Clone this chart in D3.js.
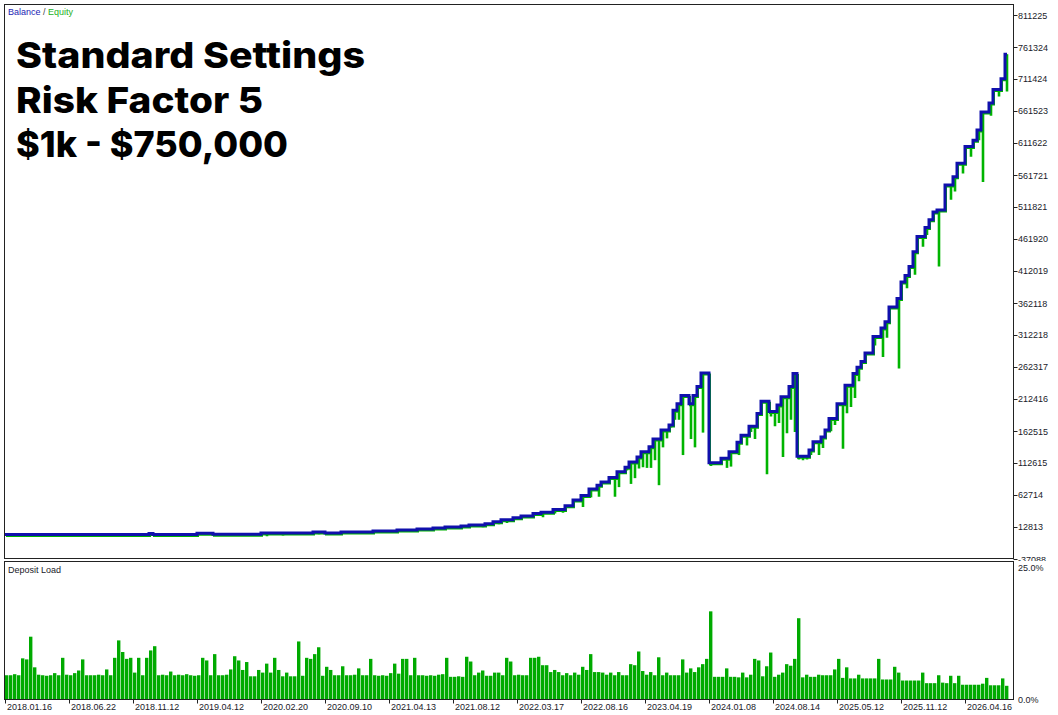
<!DOCTYPE html>
<html>
<head>
<meta charset="utf-8">
<script src="https://cdn.jsdelivr.net/npm/d3@7/dist/d3.min.js"></script>
<style>
  body { margin: 0; background: #fff; }
  svg { display: block; }
  .axis-label { font-family: "Liberation Sans", Arial, sans-serif; font-size: 9px; fill: #1a1a2a; }
</style>
</head>
<body>
<div id="chart"></div>
<script>
// tick labels
const dateLabels = ['2018.01.16', '2018.06.22', '2018.11.12', '2019.04.12', '2020.02.20', '2020.09.10',
  '2021.04.13', '2021.08.12', '2022.03.17', '2022.08.16', '2023.04.19', '2024.01.08',
  '2024.08.14', '2025.05.12', '2025.11.12', '2026.04.16'];
const dateTickTrades = [0, 16, 32, 48, 64, 80, 96, 112, 128, 144, 160, 176, 192, 208, 224, 240];
const yTickValues = [-37088, 12813, 62714, 112615, 162515, 212416, 262317, 312218, 362118,
  412019, 461920, 511821, 561721, 611622, 661523, 711424, 761324, 811225];
const loadTicks = [0, 25];

// balance after each step: [trade index, balance]
const balanceSteps = [
  [0, 1000], [36, 2800], [37, 1200], [48, 3000], [52, 1500], [64, 3400], [77, 5000], [80, 3400],
  [84, 5000], [92, 6600], [98, 8100], [103, 9700], [107, 11300], [110, 12800], [114, 14400],
  [116, 15900], [120, 18000], [122, 21000], [124, 24000], [127, 27300], [129, 30000], [132, 34000],
  [134, 36000], [137, 40000], [140, 46000], [142, 55000], [144, 62000], [146, 72000], [148, 78000],
  [149, 83000], [151, 90000], [153, 99000], [155, 106000], [156, 114000], [158, 122000],
  [159, 130000], [161, 138000], [162, 150000], [164, 164000], [166, 172000], [167, 195000],
  [168, 205000], [169, 218000], [171, 205000], [172, 218000], [173, 232000], [174, 253000],
  [176, 113000], [179, 120000], [181, 130000], [183, 145000], [184, 156000], [186, 170000],
  [188, 190000], [189, 209000], [191, 193000], [193, 203000], [194, 216000], [196, 232000],
  [197, 252000], [198, 123000], [201, 133000], [202, 145800], [204, 153000], [205, 164000],
  [206, 182000], [208, 205000], [210, 234000], [212, 252000], [213, 262000], [214, 271000],
  [215, 284000], [217, 310000], [219, 323000], [220, 333000], [221, 356000], [223, 369000],
  [224, 395000], [225, 405000], [226, 419000], [227, 442000], [228, 466000], [230, 480000],
  [231, 492000], [232, 504000], [233, 507000], [235, 546000], [237, 559000], [238, 580000],
  [240, 606000], [242, 616000], [243, 632000], [244, 660000], [246, 674000], [247, 695000],
  [249, 712000], [250, 750000]
];

// lowest equity reached during a trade: [trade index, equity]
const equityDips = [
  [65, -1800], [69, -500], [78, 1500], [84, 2000], [88, 3000], [97, 4500], [99, 5500], [108, 8000],
  [118, 13000], [119, 12500], [123, 17000], [125, 19000], [126, 22000], [128, 25000], [131, 28000],
  [134, 28000], [137, 34000], [139, 35000], [144, 44000], [146, 59000], [148, 60000], [152, 60000],
  [153, 75000], [155, 101000], [156, 80000], [157, 89000], [158, 104000], [159, 106000],
  [160, 105000], [161, 105000], [162, 117000], [163, 78000], [164, 137000], [165, 151000],
  [166, 168000], [167, 180000], [168, 180000], [169, 125000], [171, 150000], [172, 137000],
  [174, 160000], [176, 108000], [178, 112000], [180, 105000], [181, 107000], [183, 125000],
  [185, 140000], [186, 161000], [187, 150000], [190, 95000], [191, 185000], [192, 170000],
  [193, 175000], [194, 122000], [195, 159000], [196, 180000], [197, 161000], [198, 118000],
  [199, 117000], [200, 118000], [201, 125000], [203, 125000], [204, 136000], [206, 162000],
  [207, 172000], [209, 135000], [210, 190000], [211, 200000], [212, 214000], [213, 240000],
  [217, 296000], [219, 278000], [220, 308000], [223, 260000], [225, 385000], [227, 406000],
  [229, 450000], [230, 468000], [233, 419000], [236, 523000], [237, 536000], [239, 564000],
  [241, 590000], [243, 616000], [244, 551000], [246, 654000], [248, 684000], [250, 692000]
];

// deposit load per trade, percent
const depositLoad = [
  4.5, 4.5, 4.7, 4.5, 7.7, 7.5, 11.8, 6.0, 4.6, 4.5, 4.4, 4.5, 4.9, 4.5, 7.8, 4.6, 4.5, 4.9, 5.4, 7.5,
  4.5, 4.5, 4.5, 4.6, 4.5, 5.6, 4.5, 7.8, 11.1, 8.9, 7.6, 7.8, 5.0, 7.8, 4.5, 7.8, 9.2, 10.0, 4.5, 4.6,
  4.5, 5.2, 4.5, 4.6, 4.5, 4.7, 4.5, 4.4, 4.5, 7.8, 7.3, 4.5, 8.5, 4.5, 4.5, 4.6, 5.6, 8.1, 7.3, 5.5,
  7.0, 4.3, 4.3, 5.5, 5.0, 6.7, 5.0, 7.8, 5.5, 4.3, 5.0, 4.3, 4.3, 10.9, 4.4, 7.8, 7.6, 8.5, 9.8, 4.4,
  6.1, 5.5, 4.5, 4.5, 6.2, 4.5, 4.5, 4.6, 5.8, 4.5, 4.5, 7.6, 4.5, 4.4, 4.5, 4.4, 4.9, 6.7, 4.8, 7.6,
  7.6, 4.5, 7.8, 4.5, 4.5, 4.4, 4.5, 4.4, 4.6, 4.7, 7.8, 4.2, 4.2, 4.3, 4.2, 8.0, 7.1, 4.5, 5.0, 5.4,
  4.4, 4.4, 5.0, 5.0, 4.5, 7.8, 7.1, 4.5, 4.6, 4.5, 4.5, 7.8, 7.8, 8.0, 6.4, 6.4, 5.1, 5.5, 5.1, 4.5,
  4.9, 4.5, 5.0, 4.6, 6.1, 5.5, 8.5, 5.1, 5.1, 5.0, 4.6, 5.0, 4.5, 5.1, 4.5, 4.5, 6.6, 6.4, 9.0, 5.3,
  4.6, 5.1, 4.5, 7.9, 4.5, 5.0, 4.5, 4.5, 4.5, 7.5, 5.0, 5.8, 5.1, 6.0, 6.6, 7.6, 16.6, 4.2, 4.2, 4.2,
  5.8, 4.2, 4.2, 4.1, 5.0, 4.1, 4.6, 7.6, 7.3, 4.3, 6.2, 8.8, 4.2, 4.6, 5.0, 6.6, 6.3, 7.6, 15.3, 4.1,
  4.6, 4.2, 4.2, 4.6, 4.5, 4.5, 4.5, 5.6, 7.6, 4.0, 6.0, 3.9, 3.9, 4.6, 3.9, 3.9, 3.9, 3.9, 7.6, 3.7,
  3.7, 3.7, 6.1, 5.0, 3.5, 3.5, 3.5, 3.5, 3.5, 5.0, 3.0, 3.0, 3.0, 4.5, 3.1, 3.0, 4.4, 3.0, 4.4, 2.7,
  2.7, 2.7, 2.7, 2.7, 2.9, 4.0, 2.6, 2.6, 2.6, 3.9, 2.5
];

const width = 1058;
const height = 715;
const plotLeft = 4.5;
const plotRight = 1013.5;
const mainTop = 4.5;
const mainBottom = 558.5;
const loadTop = 561.5;
const loadBottom = 699.5;
const tradeCount = 251;

const svg = d3.select('#chart')
  .append('svg')
  .attr('width', width)
  .attr('height', height);

svg.append('rect').attr('width', width).attr('height', height).attr('fill', '#fff');

const x = d3.scaleLinear().domain([0, tradeCount]).range([5, 1009]);
const y = d3.scaleLinear().domain([-37088, 811225]).range([559, 15]);
const yLoad = d3.scaleLinear().domain([0, 25]).range([699, 567]);

// clip for main plot
const defs = svg.append('defs');
defs.append('clipPath').attr('id', 'main-clip')
  .append('rect').attr('x', plotLeft).attr('y', mainTop).attr('width', plotRight - plotLeft).attr('height', mainBottom - mainTop);
defs.append('clipPath').attr('id', 'label-clip')
  .append('rect').attr('x', 1014).attr('y', 0).attr('width', 44).attr('height', 561);

const balanceLine = balanceSteps.concat([[tradeCount - 0.5, balanceSteps[balanceSteps.length - 1][1]]]);
const bisect = d3.bisector(d => d[0]).right;
function balanceAt(t) {
  const i = bisect(balanceSteps, t) - 1;
  return balanceSteps[Math.max(0, i)][1];
}

const plot = svg.append('g').attr('clip-path', 'url(#main-clip)');

const stepLine = d3.line()
  .x(d => x(d[0]))
  .y(d => y(d[1]))
  .curve(d3.curveStepAfter);

// equity (sits just under balance)
plot.append('path')
  .datum(balanceLine)
  .attr('d', stepLine)
  .attr('transform', 'translate(1,1.5)')
  .attr('fill', 'none')
  .attr('stroke', '#00b400')
  .attr('stroke-width', 2);

plot.selectAll('.dip')
  .data(equityDips)
  .enter()
  .append('line')
  .attr('class', 'dip')
  .attr('x1', d => x(d[0]) + 2)
  .attr('x2', d => x(d[0]) + 2)
  .attr('y1', d => y(balanceAt(d[0])))
  .attr('y2', d => y(d[1]))
  .attr('stroke', '#00b400')
  .attr('stroke-width', 2.6);

// balance
plot.append('path')
  .datum(balanceLine)
  .attr('d', stepLine)
  .attr('fill', 'none')
  .attr('stroke', '#1010ac')
  .attr('stroke-width', 3)
  .attr('stroke-linejoin', 'miter');

// deposit load bars
svg.append('g').selectAll('rect')
  .data(depositLoad)
  .enter()
  .append('rect')
  .attr('x', (d, i) => x(i))
  .attr('y', d => yLoad(d))
  .attr('width', 3.4)
  .attr('height', d => yLoad(0) - yLoad(d))
  .attr('fill', '#00aa00');

// frames
[[mainTop, mainBottom], [loadTop, loadBottom]].forEach(([t, b]) => {
  svg.append('rect')
    .attr('x', plotLeft).attr('y', t)
    .attr('width', plotRight - plotLeft).attr('height', b - t)
    .attr('fill', 'none')
    .attr('stroke', '#222')
    .attr('stroke-width', 1);
});

// right value axis
const yAxis = svg.append('g');
yAxis.selectAll('line')
  .data(yTickValues)
  .enter()
  .append('line')
  .attr('x1', plotRight).attr('x2', plotRight + 4)
  .attr('y1', d => Math.round(y(d)) + 0.5).attr('y2', d => Math.round(y(d)) + 0.5)
  .attr('stroke', '#222');
yAxis.append('g').attr('clip-path', 'url(#label-clip)')
  .selectAll('text')
  .data(yTickValues)
  .enter()
  .append('text')
  .attr('class', 'axis-label')
  .attr('x', 1018)
  .attr('y', d => y(d) + 3.5)
  .text(d => d);

// load axis
svg.append('g').selectAll('text')
  .data(loadTicks)
  .enter()
  .append('text')
  .attr('class', 'axis-label')
  .attr('x', 1018)
  .attr('y', d => yLoad(d) + 3.5)
  .text(d => d.toFixed(1) + '%');

// date axis
const xAxis = svg.append('g');
xAxis.selectAll('line')
  .data(dateTickTrades)
  .enter()
  .append('line')
  .attr('x1', d => Math.round(x(d)) + 0.5).attr('x2', d => Math.round(x(d)) + 0.5)
  .attr('y1', loadBottom).attr('y2', loadBottom + 4)
  .attr('stroke', '#222');
xAxis.selectAll('text')
  .data(dateTickTrades)
  .enter()
  .append('text')
  .attr('class', 'axis-label')
  .attr('x', d => x(d) + 2)
  .attr('y', 710)
  .text((d, i) => dateLabels[i]);

// legend
const legend = svg.append('text')
  .attr('class', 'axis-label')
  .attr('x', 8)
  .attr('y', 15);
legend.append('tspan').attr('fill', '#1c1cb4').text('Balance');
legend.append('tspan').attr('fill', '#444').text(' / ');
legend.append('tspan').attr('fill', '#1cb01c').text('Equity');

svg.append('text')
  .attr('class', 'axis-label')
  .attr('x', 8)
  .attr('y', 573)
  .attr('fill', '#222')
  .text('Deposit Load');

// title block
const titleLines = ['Standard Settings', 'Risk Factor 5', '$1k - $750,000'];
const titleWidths = [349, 247, 272];
svg.append('g').selectAll('text')
  .data(titleLines)
  .enter()
  .append('text')
  .attr('x', 16)
  .attr('y', (d, i) => 68 + i * 44.5)
  .attr('textLength', (d, i) => titleWidths[i])
  .attr('lengthAdjust', 'spacingAndGlyphs')
  .style('font-family', 'Inter, "Open Sans", sans-serif')
  .style('font-weight', 800)
  .style('font-size', '36px')
  .attr('fill', '#000')
  .text(d => d);
</script>
</body>
</html>
